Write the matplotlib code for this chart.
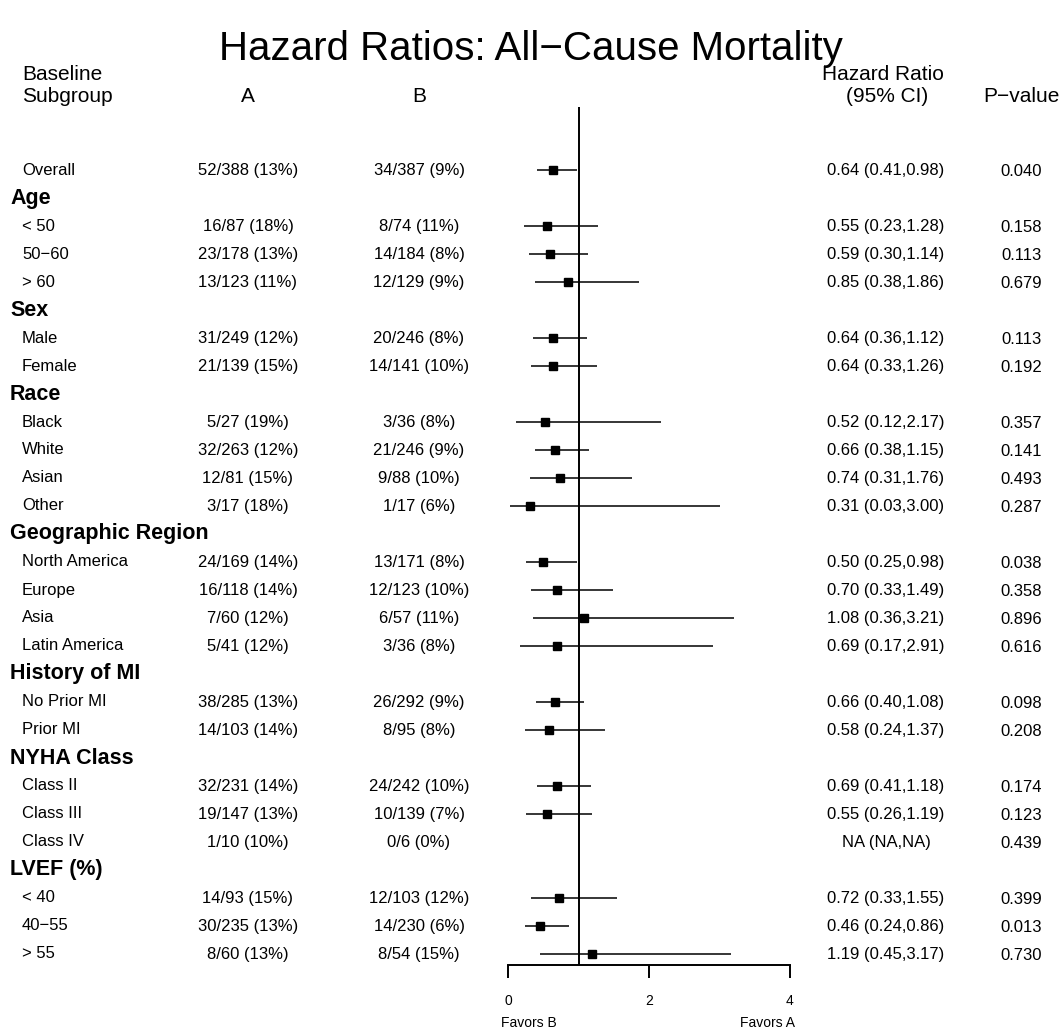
import numpy as np
import matplotlib
matplotlib.use("Agg")
import matplotlib.pyplot as plt
import matplotlib.transforms as mtransforms

plt.rcParams['font.family'] = ['Liberation Sans', 'DejaVu Sans']

# rows of the table, top to bottom; group headings have no numbers
subgroups = ["Overall",
             "Age", "< 50", "50\u221260", "> 60",
             "Sex", "Male", "Female",
             "Race", "Black", "White", "Asian", "Other",
             "Geographic Region", "North America", "Europe", "Asia", "Latin America",
             "History of MI", "No Prior MI", "Prior MI",
             "NYHA Class", "Class II", "Class III", "Class IV",
             "LVEF (%)", "< 40", "40\u221255", "> 55"]
headings = {"Age", "Sex", "Race", "Geographic Region", "History of MI",
            "NYHA Class", "LVEF (%)"}

arm_a = ["52/388 (13%)",
         None, "16/87 (18%)", "23/178 (13%)", "13/123 (11%)",
         None, "31/249 (12%)", "21/139 (15%)",
         None, "5/27 (19%)", "32/263 (12%)", "12/81 (15%)", "3/17 (18%)",
         None, "24/169 (14%)", "16/118 (14%)", "7/60 (12%)", "5/41 (12%)",
         None, "38/285 (13%)", "14/103 (14%)",
         None, "32/231 (14%)", "19/147 (13%)", "1/10 (10%)",
         None, "14/93 (15%)", "30/235 (13%)", "8/60 (13%)"]
arm_b = ["34/387 (9%)",
         None, "8/74 (11%)", "14/184 (8%)", "12/129 (9%)",
         None, "20/246 (8%)", "14/141 (10%)",
         None, "3/36 (8%)", "21/246 (9%)", "9/88 (10%)", "1/17 (6%)",
         None, "13/171 (8%)", "12/123 (10%)", "6/57 (11%)", "3/36 (8%)",
         None, "26/292 (9%)", "8/95 (8%)",
         None, "24/242 (10%)", "10/139 (7%)", "0/6 (0%)",
         None, "12/103 (12%)", "14/230 (6%)", "8/54 (15%)"]

nan = np.nan
hr = [0.64,
      nan, 0.55, 0.59, 0.85,
      nan, 0.64, 0.64,
      nan, 0.52, 0.66, 0.74, 0.31,
      nan, 0.50, 0.70, 1.08, 0.69,
      nan, 0.66, 0.58,
      nan, 0.69, 0.55, nan,
      nan, 0.72, 0.46, 1.19]
ci_low = [0.41,
          nan, 0.23, 0.30, 0.38,
          nan, 0.36, 0.33,
          nan, 0.12, 0.38, 0.31, 0.03,
          nan, 0.25, 0.33, 0.36, 0.17,
          nan, 0.40, 0.24,
          nan, 0.41, 0.26, nan,
          nan, 0.33, 0.24, 0.45]
ci_high = [0.98,
           nan, 1.28, 1.14, 1.86,
           nan, 1.12, 1.26,
           nan, 2.17, 1.15, 1.76, 3.00,
           nan, 0.98, 1.49, 3.21, 2.91,
           nan, 1.08, 1.37,
           nan, 1.18, 1.19, nan,
           nan, 1.55, 0.86, 3.17]
p_values = ["0.040",
            None, "0.158", "0.113", "0.679",
            None, "0.113", "0.192",
            None, "0.357", "0.141", "0.493", "0.287",
            None, "0.038", "0.358", "0.896", "0.616",
            None, "0.098", "0.208",
            None, "0.174", "0.123", "0.439",
            None, "0.399", "0.013", "0.730"]

xticks = [0, 2, 4]

W, H = 1062, 1034
fig = plt.figure(figsize=(W / 100, H / 100), dpi=100)
ax = fig.add_axes([0, 0, 1, 1])

# forest scale: 0 -> px 508, 4 -> px 790; row k -> px 170 + 28k
x0, ppu = 508.0, 70.5
y0, row_h = 170.0, 28.0
ax.set_xlim(-x0 / ppu, (W - x0) / ppu)
ax.set_ylim((H - y0) / row_h, -y0 / row_h)

rows = np.arange(len(subgroups))
trans = mtransforms.blended_transform_factory(ax.transAxes, ax.transData)


def colx(px):
    return px / W


def rowy(px):
    return (px - y0) / row_h


axis_y = 965

# column headings
hdr = dict(fontsize=15, transform=trans, va='center')
ax.text(colx(22), rowy(74), "Baseline", ha='left', **hdr)
ax.text(colx(22), rowy(96), "Subgroup", ha='left', **hdr)
ax.text(colx(248), rowy(96), "A", ha='center', **hdr)
ax.text(colx(419), rowy(96), "B", ha='center', **hdr)
ax.text(colx(883), rowy(74), "Hazard Ratio", ha='center', **hdr)
ax.text(colx(887), rowy(96), "(95% CI)", ha='center', **hdr)
ax.text(colx(1021), rowy(96), "P\u2212value", ha='center', **hdr)

# table body
for i, name in enumerate(subgroups):
    if name in headings:
        ax.text(colx(10), i, name, ha='left', va='center', fontsize=15.5,
                fontweight='bold', transform=trans)
        continue
    kw = dict(fontsize=12, va='center', transform=trans)
    ax.text(colx(22), i, name, ha='left', **kw)
    ax.text(colx(248), i, arm_a[i], ha='center', **kw)
    ax.text(colx(419), i, arm_b[i], ha='center', **kw)
    if np.isnan(hr[i]):
        hr_txt = "NA (NA,NA)"
    else:
        hr_txt = f"{hr[i]:.2f} ({ci_low[i]:.2f},{ci_high[i]:.2f})"
    ax.text(colx(886), i, hr_txt, ha='center', **kw)
    ax.text(colx(1021), i + 0.06, p_values[i], ha='center', **kw)

# forest marks
hr_a = np.array(hr)
ok = ~np.isnan(hr_a)
ax.hlines(rows[ok], np.array(ci_low)[ok], np.array(ci_high)[ok],
          color='black', lw=1.1)
ax.plot(hr_a[ok], rows[ok], 's', color='black', markersize=5.6)
ax.vlines(1, rowy(107), rowy(axis_y), color='black', lw=1.4)

# x axis below the forest
for s in ['left', 'right', 'top']:
    ax.spines[s].set_visible(False)
ax.spines['bottom'].set_position(('data', rowy(axis_y)))
ax.spines['bottom'].set_bounds(0, 4)
ax.spines['bottom'].set_linewidth(1.4)
ax.set_xticks(xticks)
ax.set_xticklabels([str(t) for t in xticks])
ax.tick_params(axis='x', direction='out', length=9.4, width=1.4,
               labelsize=10, pad=11.5)
ax.set_yticks([])

ax.text(-0.1, rowy(1023), "Favors B", ha='left', va='center', fontsize=10)
ax.text(4.07, rowy(1023), "Favors A", ha='right', va='center', fontsize=10)

fig.text(0.5, 1 - 49 / H, "Hazard Ratios: All\u2212Cause Mortality",
         ha='center', va='center', fontsize=29)

fig.savefig("out.png", dpi=100)
